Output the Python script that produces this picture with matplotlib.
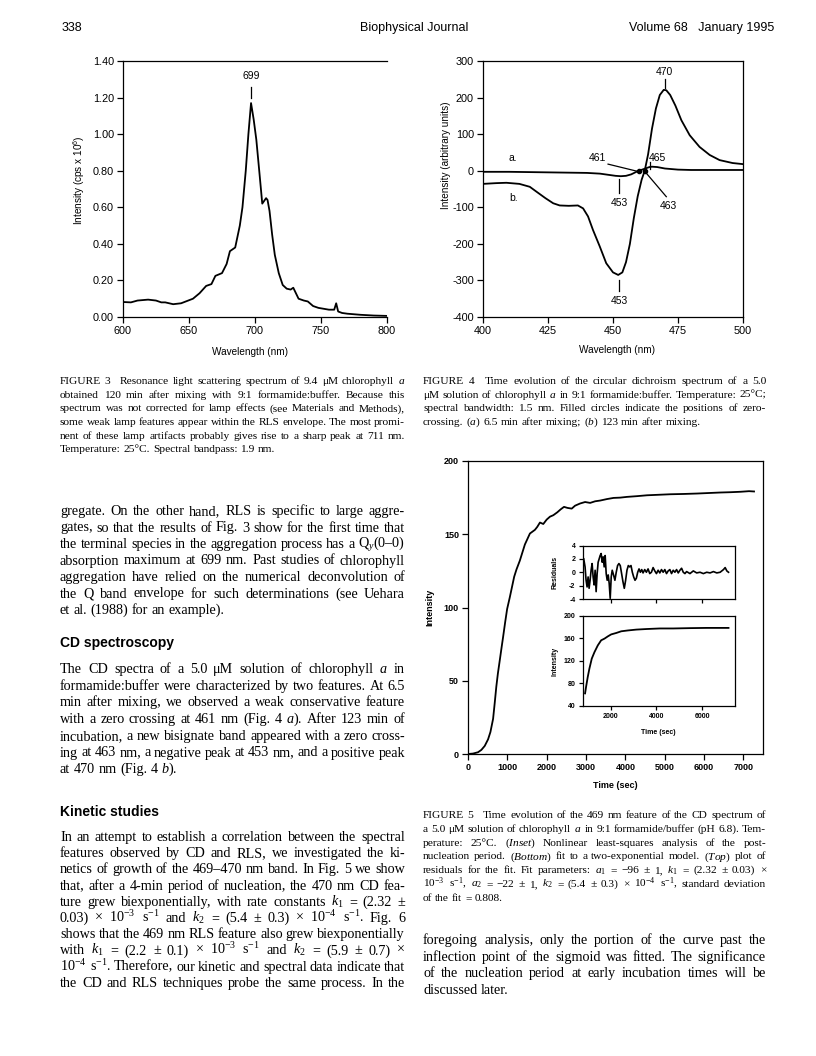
import numpy as np
import matplotlib
matplotlib.use("Agg")
import matplotlib.pyplot as plt
from matplotlib.ticker import FormatStrFormatter

plt.rcParams['font.family'] = ['Liberation Sans', 'DejaVu Sans']
plt.rcParams['mathtext.fontset'] = 'custom'
plt.rcParams['mathtext.rm'] = 'Liberation Serif'
plt.rcParams['mathtext.it'] = 'Liberation Serif:italic'
plt.rcParams['mathtext.bf'] = 'Liberation Serif:bold'
plt.rcParams['mathtext.sf'] = 'Liberation Sans'
plt.rcParams['axes.linewidth'] = 0.9
plt.rcParams['axes.unicode_minus'] = False

# ---- data: Figure 3, resonance light scattering spectrum
rls_nm = [600, 606, 611, 619, 625, 629, 632, 638, 644, 653, 658, 663, 667, 670, 675,
          678.5, 681, 685, 688.5, 690.5, 693, 695, 697, 699, 701, 703.4, 705.5, 708.4,
          709.5, 711, 713, 715, 718, 721, 724, 727, 729, 731, 733, 737, 740, 744, 748,
          752, 756, 760, 761.5, 763, 766, 770, 780, 790, 800]
rls_int = [0.082, 0.080, 0.090, 0.095, 0.090, 0.080, 0.080, 0.070, 0.075, 0.100, 0.130,
           0.170, 0.180, 0.225, 0.240, 0.290, 0.360, 0.380, 0.500, 0.600, 0.800, 1.000,
           1.170, 1.080, 0.970, 0.785, 0.620, 0.650, 0.640, 0.580, 0.450, 0.340, 0.240,
           0.175, 0.155, 0.150, 0.160, 0.130, 0.100, 0.090, 0.085, 0.060, 0.050, 0.045,
           0.040, 0.040, 0.075, 0.030, 0.022, 0.018, 0.012, 0.008, 0.006]

# ---- data: Figure 4, CD spectra
cd_nm_a = [400, 410, 420, 430, 440, 445, 448, 451, 453, 455, 457, 459, 460, 462, 464,
           465, 467, 470, 475, 480, 490, 500]
cd_a = [-3, -3, -4, -5, -6, -8, -11, -14, -15, -14, -10, -3, 0, 5, 10, 11, 10, 6, 3, 2, 2, 2]
cd_nm_b = [400, 405, 409, 414, 418, 420.5, 424, 427, 429.5, 433, 436.5, 438.5, 440.4,
           442.3, 444.9, 447.4, 450, 452, 453.6, 455, 456.5, 458, 459.5, 461, 462.2,
           463.5, 465, 466.5, 468, 469.5, 470.5, 472, 474, 476.3, 479.5, 483.3, 487.2,
           491, 496, 500]
cd_b = [-36, -34, -33, -36, -44, -57, -75, -89, -95, -96, -95, -103, -125, -162, -207,
        -253, -278, -285, -278, -250, -200, -130, -70, -25, 0, 45, 115, 170, 207, 221,
        220, 207, 178, 138, 97, 65, 43, 29, 21, 18]
zero_nm = [460, 462.2]

# ---- data: Figure 5, kinetics of the 469 nm CD feature
kin_t = [0, 128, 255, 340, 425, 510, 570, 638, 680, 720, 760, 808, 850, 893, 945, 995,
         1063, 1174, 1233, 1318, 1446, 1574, 1701, 1760, 1829, 1914, 2000, 2084, 2169,
         2271, 2356, 2441, 2526, 2637, 2722, 2850, 2977, 3105, 3232, 3360, 3530, 3700,
         3870, 4040, 4295, 4551, 4891, 5146, 5486, 5827, 6167, 6422, 6677, 6932, 7145, 7272]
kin_i = [0, 0.3, 1.2, 2.8, 5.5, 10, 15, 24, 35, 46, 55, 64, 72, 80, 90, 99, 107, 121,
         126, 132, 143, 150.5, 153, 155, 158, 157, 160, 162, 163, 165, 167, 168.7, 168,
         167.5, 169.5, 171, 172, 171.4, 172.5, 173, 174, 174.8, 175, 175.5, 176, 176.6,
         177, 177.3, 177.5, 177.8, 178.2, 178.5, 178.7, 179, 179.4, 179.2]

fit_t = [890, 934, 1007, 1080, 1182, 1299, 1445, 1591, 1737, 1883, 2029, 2248, 2467,
         2759, 3124, 3562, 4146, 4730, 5460, 6190, 7139]
fit_i = [61.8, 73.5, 91, 106, 123.5, 135, 147, 156, 159, 163, 166.5, 169, 172, 173.5,
         175, 176, 177, 177, 177.6, 178, 178]

res_t = [832, 890, 934, 978, 1022, 1066, 1109, 1153, 1197, 1241, 1285, 1328, 1372, 1416,
         1460, 1504, 1547, 1591, 1635, 1679, 1723, 1766, 1810, 1854, 1898, 1942, 1985,
         2029, 2073, 2131, 2190, 2248, 2307, 2365, 2423, 2482, 2540, 2599, 2657, 2715,
         2774, 2832, 2891, 2949, 3007, 3066, 3124, 3183, 3241, 3299, 3358, 3416, 3489,
         3562, 3635, 3708, 3781, 3854, 3927, 4000, 4073, 4146, 4219, 4292, 4365, 4438,
         4511, 4584, 4657, 4730, 4803, 4876, 4949, 5022, 5095, 5168, 5241, 5314, 5460,
         5606, 5752, 5898, 6044, 6190, 6336, 6482, 6628, 6774, 6920, 6993, 7066, 7139]
res_v = [2.0, 0.8, -1.2, -2.2, -0.7, -2.4, -1.2, 0.3, 1.3, -0.7, -1.9, 0.3, -2.9, -0.2,
         1.5, 2.0, 2.5, 2.8, 1.5, 2.3, 0.8, 2.5, -0.2, -1.2, -0.4, -1.7, -3.9, -0.7, 0.3,
         -0.4, -1.2, 0.0, 1.0, 1.3, 1.0, -0.2, -1.4, -2.4, -1.2, 0.3, 1.0, 0.8, 1.0, 0.0,
         -0.7, -1.2, -0.9, 0.0, 0.5, 0.0, 0.4, -0.1, 0.4, 0.0, 0.5, -0.2, 0.0, 0.7, 0.2,
         -0.2, 0.3, -0.1, 0.4, 0.0, 0.4, -0.2, 0.2, 0.4, -0.2, 0.3, 0.0, 0.4, -0.1, 0.3,
         0.6, 0.0, -0.2, 0.1, -0.2, 0.2, -0.1, 0.0, -0.2, 0.0, -0.1, 0.1, -0.1, 0.0, 0.4,
         0.7, 0.2, 0.0]

# ---- page text
header = ["338", "Biophysical Journal", "Volume 68   January 1995"]

cap3 = ["FIGURE 3   Resonance light scattering spectrum of 9.4 μM chlorophyll $a$",
        "obtained 120 min after mixing with 9:1 formamide:buffer. Because this",
        "spectrum was not corrected for lamp effects (see Materials and Methods),",
        "some weak lamp features appear within the RLS envelope. The most promi-",
        "nent of these lamp artifacts probably gives rise to a sharp peak at 711 nm.",
        "Temperature: 25°C. Spectral bandpass: 1.9 nm."]

cap4 = ["FIGURE 4   Time evolution of the circular dichroism spectrum of a 5.0",
        "μM solution of chlorophyll $a$ in 9:1 formamide:buffer. Temperature: 25°C;",
        "spectral bandwidth: 1.5 nm. Filled circles indicate the positions of zero-",
        "crossing. ($a$) 6.5 min after mixing; ($b$) 123 min after mixing."]

cap5 = ["FIGURE 5   Time evolution of the 469 nm feature of the CD spectrum of",
        "a 5.0 μM solution of chlorophyll $a$ in 9:1 formamide/buffer (pH 6.8). Tem-",
        "perature: 25°C. ($Inset$) Nonlinear least-squares analysis of the post-",
        "nucleation period. ($Bottom$) fit to a two-exponential model. ($Top$) plot of",
        "residuals for the fit. Fit parameters: $a_1$ = −96 ± 1, $k_1$ = (2.32 ± 0.03) ×",
        "10$^{-3}$ s$^{-1}$, $a_2$ = −22 ± 1, $k_2$ = (5.4 ± 0.3) × 10$^{-4}$ s$^{-1}$, standard deviation",
        "of the fit = 0.808."]

body1 = ["gregate. On the other hand, RLS is specific to large aggre-",
         "gates, so that the results of Fig. 3 show for the first time that",
         "the terminal species in the aggregation process has a Q$_y$(0–0)",
         "absorption maximum at 699 nm. Past studies of chlorophyll",
         "aggregation have relied on the numerical deconvolution of",
         "the Q band envelope for such determinations (see Uehara",
         "et al. (1988) for an example)."]

body2 = ["The CD spectra of a 5.0 μM solution of chlorophyll $a$ in",
         "formamide:buffer were characterized by two features. At 6.5",
         "min after mixing, we observed a weak conservative feature",
         "with a zero crossing at 461 nm (Fig. 4 $a$). After 123 min of",
         "incubation, a new bisignate band appeared with a zero cross-",
         "ing at 463 nm, a negative peak at 453 nm, and a positive peak",
         "at 470 nm (Fig. 4 $b$)."]

body3 = ["In an attempt to establish a correlation between the spectral",
         "features observed by CD and RLS, we investigated the ki-",
         "netics of growth of the 469–470 nm band. In Fig. 5 we show",
         "that, after a 4-min period of nucleation, the 470 nm CD fea-",
         "ture grew biexponentially, with rate constants $k_1$ = (2.32 ±",
         "0.03) × 10$^{-3}$ s$^{-1}$ and $k_2$ = (5.4 ± 0.3) × 10$^{-4}$ s$^{-1}$. Fig. 6",
         "shows that the 469 nm RLS feature also grew biexponentially",
         "with $k_1$ = (2.2 ± 0.1) × 10$^{-3}$ s$^{-1}$ and $k_2$ = (5.9 ± 0.7) ×",
         "10$^{-4}$ s$^{-1}$. Therefore, our kinetic and spectral data indicate that",
         "the CD and RLS techniques probe the same process. In the"]

body4 = ["foregoing analysis, only the portion of the curve past the",
         "inflection point of the sigmoid was fitted. The significance",
         "of the nucleation period at early incubation times will be",
         "discussed later."]

W, H = 816, 1056
fig = plt.figure(figsize=(8.16, 10.56), dpi=100)


def box(l, t, r, b):
    return [l / W, 1 - b / H, (r - l) / W, (b - t) / H]


def ftext(x, y, s, **kw):
    return fig.text(x / W, 1 - y / H, s, **kw)


def style(ax, size, weight='normal'):
    ax.tick_params(direction='out', length=4, width=0.9, labelsize=size, pad=2.5)
    for lab in ax.get_xticklabels() + ax.get_yticklabels():
        lab.set_fontweight(weight)


lines = []


def paragraph(x0, x1, y0, step, rows, size, last_free=True):
    for i, row in enumerate(rows):
        toks = []
        for tok in row.split(' '):
            if tok:
                toks.append(ftext(0, y0 + i * step, tok, fontsize=size,
                                  family='Liberation Serif', va='baseline'))
            else:
                toks.append(None)
        free = last_free and i == len(rows) - 1
        lines.append((x0, x1, size, toks, not free))


# header
ftext(62, 31, header[0], fontsize=9, va='baseline')
ftext(414, 31, header[1], fontsize=9, va='baseline', ha='center')
ftext(774, 31, header[2], fontsize=9, va='baseline', ha='right')

# ---- Figure 3
ax3 = fig.add_axes(box(123, 61, 387, 317))
ax3.plot(rls_nm, rls_int, color='black', lw=1.3)
ax3.set_xlim(600, 800)
ax3.set_ylim(0, 1.4)
ax3.set_xticks(np.arange(600, 801, 50))
ax3.set_yticks(np.arange(0, 1.41, 0.2))
ax3.yaxis.set_major_formatter(FormatStrFormatter('%.2f'))
ax3.spines['right'].set_visible(False)
style(ax3, 7.8)
ax3.plot([697, 697], [1.195, 1.258], color='black', lw=0.9)
ax3.text(697, 1.32, "699", fontsize=7.5, ha='center', va='center')
ftext(79, 180, "Intensity (cps x 10$^{\\mathsf{6}}$)", fontsize=7.2, rotation=90,
      ha='center', va='center')
ftext(250, 352, "Wavelength (nm)", fontsize=7.2, ha='center', va='center')

# ---- Figure 4
ax4 = fig.add_axes(box(483, 61, 743, 317))
ax4.plot(cd_nm_a, cd_a, color='black', lw=1.3)
ax4.plot(cd_nm_b, cd_b, color='black', lw=1.3)
ax4.plot(zero_nm, [0, 0], 'o', color='black', ms=3)
ax4.set_xlim(400, 500)
ax4.set_ylim(-400, 300)
ax4.set_xticks(np.arange(400, 501, 25))
ax4.set_yticks(np.arange(-400, 301, 100))
style(ax4, 7.8)
ann = dict(fontsize=7.5, ha='center', va='center')
ax4.text(469.9, 270, "470", **ann)
ax4.plot([469.9, 469.9], [225, 252], color='black', lw=0.9)
ax4.text(444.2, 34, "461", **ann)
ax4.plot([448.1, 459.6], [18, -2], color='black', lw=0.9)
ax4.text(467.2, 34, "465", **ann)
ax4.plot([464.4, 464.4], [6, 24], color='black', lw=0.9)
ax4.text(471.2, -96, "463", **ann)
ax4.plot([462.6, 470.5], [-5, -71], color='black', lw=0.9)
ax4.text(452.3, -89, "453", **ann)
ax4.plot([452.3, 452.3], [-24, -62], color='black', lw=0.9)
ax4.text(452.3, -357, "453", **ann)
ax4.plot([452.3, 452.3], [-300, -330], color='black', lw=0.9)
ax4.text(411.5, 36, "a.", **ann)
ax4.text(411.9, -75, "b.", **ann)
ftext(446, 155, "Intensity (arbitrary units)", fontsize=7.2, rotation=90,
      ha='center', va='center')
ftext(617, 350, "Wavelength (nm)", fontsize=7.2, ha='center', va='center')

# ---- Figure 5
ax5 = fig.add_axes(box(468, 461, 763, 754))
ax5.plot(kin_t, kin_i, color='black', lw=1.3)
ax5.set_xlim(0, 7500)
ax5.set_ylim(0, 200)
ax5.set_xticks(np.arange(0, 7001, 1000))
ax5.set_yticks(np.arange(0, 201, 50))
style(ax5, 6.5, 'bold')
ftext(430, 607, "Intensity", fontsize=6.5, weight='bold', rotation=90,
      ha='center', va='center')
ftext(615, 786, "Time (sec)", fontsize=6.5, weight='bold', ha='center', va='center')

axr = fig.add_axes(box(583, 545.5, 734.5, 599))
axr.plot(res_t, res_v, color='black', lw=1.2)
axr.set_xlim(800, 7400)
axr.set_ylim(-4, 4)
axr.set_yticks(np.arange(-4, 4.1, 2))
axr.set_xticks([2000, 4000, 6000])
axr.set_xticklabels([])
style(axr, 5, 'bold')
axr.tick_params(length=3)
ftext(555, 572, "Residuals", fontsize=5, weight='bold', rotation=90,
      ha='center', va='center')

axf = fig.add_axes(box(583, 615.5, 734.5, 705.7))
axf.plot(fit_t, fit_i, color='black', lw=1.3)
axf.set_xlim(800, 7400)
axf.set_ylim(40, 200)
axf.set_yticks(np.arange(40, 201, 40))
axf.set_xticks([2000, 4000, 6000])
style(axf, 5, 'bold')
axf.tick_params(length=3)
ftext(555, 661, "Intensity", fontsize=5, weight='bold', rotation=90,
      ha='center', va='center')
ftext(658, 733, "Time (sec)", fontsize=5, weight='bold', ha='center', va='center')

# ---- captions and body text
LX0, LX1 = 60, 405
RX0, RX1 = 423, 766
paragraph(LX0, LX1, 384, 13.7, cap3, 8.2)
paragraph(RX0, RX1, 384, 13.7, cap4, 8.2)
paragraph(RX0, RX1, 818, 13.8, cap5, 8.2)
paragraph(LX0, LX1, 515, 16.5, body1, 10.2)
paragraph(LX0, LX1, 673, 16.7, body2, 10.2)
paragraph(LX0, LX1, 841, 16.2, body3, 10.2, last_free=False)
paragraph(RX0, RX1, 944, 16.6, body4, 10.2)
ftext(LX0, 647, "CD spectroscopy", fontsize=10, weight='bold', va='baseline')
ftext(LX0, 816, "Kinetic studies", fontsize=10, weight='bold', va='baseline')

# lay the words out across the column width (justified)
rend = fig.canvas.get_renderer()
for x0, x1, size, toks, justify in lines:
    words = [t for t in toks if t is not None]
    widths = {id(t): t.get_window_extent(rend).width for t in words}
    space = size * 100 / 72 * 0.25
    extra = space * sum(1 for t in toks if t is None)
    total = sum(widths.values()) + extra
    gap = space
    if justify and len(words) > 1:
        gap = max((x1 - x0 - total) / (len(words) - 1), 1.5)
    x = x0
    for t in toks:
        if t is None:
            x += space
            continue
        pos = t.get_position()
        t.set_position((x / W, pos[1]))
        x += widths[id(t)] + gap

fig.savefig("out.png", dpi=100)
